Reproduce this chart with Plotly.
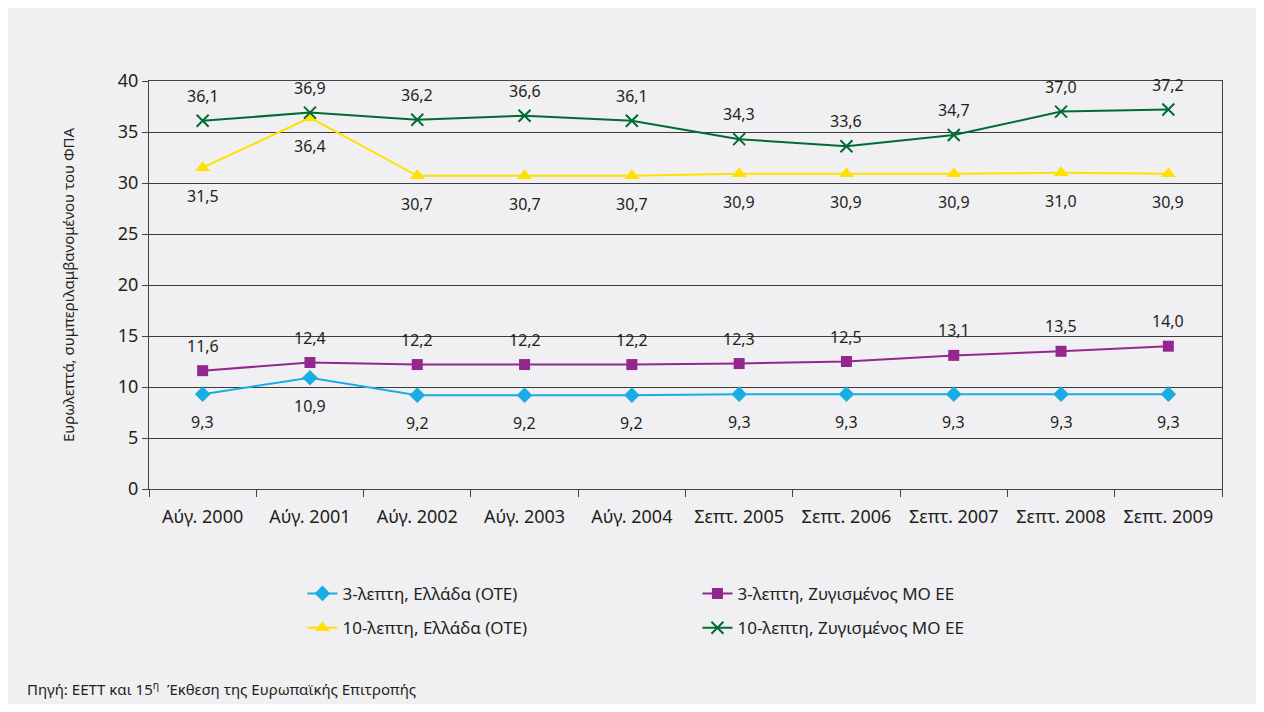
import plotly.graph_objects as go

periods = ['Αύγ. 2000', 'Αύγ. 2001', 'Αύγ. 2002', 'Αύγ. 2003', 'Αύγ. 2004',
           'Σεπτ. 2005', 'Σεπτ. 2006', 'Σεπτ. 2007', 'Σεπτ. 2008', 'Σεπτ. 2009']

gr_3min = [9.3, 10.9, 9.2, 9.2, 9.2, 9.3, 9.3, 9.3, 9.3, 9.3]
eu_3min = [11.6, 12.4, 12.2, 12.2, 12.2, 12.3, 12.5, 13.1, 13.5, 14.0]
gr_10min = [31.5, 36.4, 30.7, 30.7, 30.7, 30.9, 30.9, 30.9, 31.0, 30.9]
eu_10min = [36.1, 36.9, 36.2, 36.6, 36.1, 34.3, 33.6, 34.7, 37.0, 37.2]

y_ticks = [0, 5, 10, 15, 20, 25, 30, 35, 40]

series = [
    ('3-λεπτη, Ελλάδα (ΟΤΕ)', gr_3min, '#1AADE4', 'diamond', 12, -28, 'legend'),
    ('3-λεπτη, Ζυγισμένος ΜΟ ΕΕ', eu_3min, '#93278F', 'square', 11, 25, 'legend'),
    ('10-λεπτη, Ελλάδα (ΟΤΕ)', gr_10min, '#FFE000', 'triangle-up', 13, -28, 'legend2'),
    ('10-λεπτη, Ζυγισμένος ΜΟ ΕΕ', eu_10min, '#006B35', 'x-thin', 12, 25, 'legend2'),
]

txt_color = '#231F20'
bg = '#F0F0F2'

fig = go.Figure()
for name, vals, color, symbol, msize, shift, leg in series:
    marker = dict(symbol=symbol, size=msize, color=color)
    if symbol == 'x-thin':
        marker['line'] = dict(width=2, color=color)
    fig.add_trace(go.Scatter(
        x=periods, y=vals, name=name, mode='lines+markers',
        line=dict(color=color, width=2), marker=marker,
        legend=leg, cliponaxis=False,
    ))
    for p, v in zip(periods, vals):
        fig.add_annotation(x=p, y=v, text=f'{v:.1f}'.replace('.', ','),
                           showarrow=False, yshift=shift,
                           font=dict(size=16, color=txt_color))

fig.add_annotation(text='Πηγή: ΕΕΤΤ και 15<sup>η</sup>  Έκθεση της Ευρωπαϊκής Επιτροπής',
                   xref='paper', yref='paper', x=-0.1155, y=-0.49,
                   xanchor='left', yanchor='middle', showarrow=False,
                   font=dict(size=15, color=txt_color))

legend_style = dict(orientation='h', xanchor='left', yanchor='middle',
                    bgcolor='rgba(0,0,0,0)', font=dict(size=17, color=txt_color),
                    entrywidth=350, entrywidthmode='pixels')

fig.update_layout(
    width=1248, height=696,
    margin=dict(l=141, r=34, t=73, b=215),
    paper_bgcolor=bg, plot_bgcolor=bg,
    font=dict(family='Noto Sans, sans-serif', color=txt_color),
    legend=dict(x=0.143, y=-0.257, **legend_style),
    legend2=dict(x=0.143, y=-0.341, **legend_style),
    xaxis=dict(
        type='category', range=[-0.5, len(periods) - 0.5],
        tickson='boundaries', ticks='outside', ticklen=7,
        tickcolor='#444', showgrid=False, showline=True, linecolor='#444',
        mirror=True, tickfont=dict(size=18, color=txt_color),
        ticklabelstandoff=11, automargin=False,
    ),
    yaxis=dict(
        range=[0, 40], tickvals=y_ticks, ticks='outside', ticklen=6,
        tickcolor='#444', showgrid=True, gridcolor='#3c3c3c', gridwidth=1,
        showline=True, linecolor='#444', mirror=True, zeroline=False,
        tickfont=dict(size=18, color=txt_color), automargin=False,
        title=dict(text='Ευρωλεπτά, συμπεριλαμβανομένου του ΦΠΑ',
                   font=dict(size=15, color=txt_color), standoff=39),
    ),
)

fig.write_html('out.html')
